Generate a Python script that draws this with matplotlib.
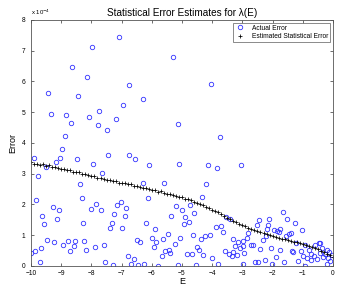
import numpy as np
import matplotlib
matplotlib.use('Agg')
import matplotlib.pyplot as plt

plt.rcParams['font.family'] = ['Liberation Sans', 'DejaVu Sans']

# actual error (units of 1e-4)
act_x = [-7.09, -7.98, -8.63, -8.14, -6.75, -9.43, -8.43, -6.94, -9.33, -8.83,
         -7.74, -8.09, -7.19, -8.68, -7.79, -7.48, -8.88, -6.29, -6.77, -6.56,
         -6.09, -7.44, -7.94, -7.64, -8.49, -8.97, -9.03, -9.18, -9.92, -9.78,
         -5.29, -4.04, -5.14, -3.75, -5.09, -4.15, -3.85, -3.06, -9.49,
         -8.38, -9.83, -8.33, -9.28, -9.08, -9.63, -9.57, -9.13, -8.28, -8.02,
         -7.84, -7.68, -7.14, -7.03, -6.85, -7.24, -6.89, -7.33, -7.38, -6.99,
         -6.18, -6.14, -6.28, -5.88, -9.48, -9.23, -9.68, -9.88, -9.99, -9.72,
         -8.93, -8.77, -8.72, -8.59, -8.53, -8.24, -8.18, -7.88, -7.58, -7.54,
         -7.28, -6.79, -6.69, -6.58, -6.45, -6.50, -6.39, -6.25, -5.98, -5.86,
         -5.94, -5.78, -5.67, -5.64, -5.55, -5.47, -5.59,
         -5.19, -5.35, -5.44, -5.39, -5.24, -5.08, -5.13,
         -4.19, -4.35, -4.75, -4.99, -4.59, -4.89, -4.78, -4.93, -3.53, -3.41,
         -3.88, -3.70, -3.63, -4.65, -4.38, -4.23, -4.08, -4.50, -4.43, -4.83,
         -4.68, -4.29, -4.00, -3.59, -3.45, -4.55, -3.80,
         -3.30, -3.30, -3.35, -3.17, -3.24, -3.08, -3.13, -2.99, -2.99, -2.95,
         -2.99, -2.84, -2.73, -2.64, -2.81, -2.53, -2.45, -2.58, -2.49, -2.42,
         -2.33, -2.26, -2.22, -2.20, -2.14, -2.11, -2.06, -2.02, -1.95, -1.89,
         -1.84, -1.75, -1.79, -1.75, -1.66, -1.61, -1.56, -1.51, -1.45, -1.40,
         -1.36, -1.31, -1.26, -1.23, -1.15, -1.07, -1.04, -0.98, -0.94, -0.94,
         -0.86, -0.80, -0.74, -0.72, -0.62, -0.61, -0.54, -0.47, -0.43, -0.44,
         -0.37, -0.32, -0.25, -0.21, -0.21, -0.16, -0.10, -0.04, -0.14]
act_y = [7.45, 7.12, 6.47, 6.14, 5.88, 5.61, 5.52, 5.22, 4.95, 4.92,
         5.03, 4.85, 4.78, 4.64, 4.59, 4.42, 4.22, 5.43, 3.60, 3.47,
         3.27, 3.60, 3.33, 3.01, 3.47, 3.81, 3.50, 3.39, 3.50, 2.91,
         6.80, 5.92, 4.63, 4.19, 3.33, 3.27, 3.19, 3.28, 3.21,
         2.65, 2.13, 2.20, 1.90, 1.81, 1.61, 1.35, 1.53, 1.38, 1.84,
         2.00, 1.83, 1.98, 2.07, 1.89, 1.68, 1.63, 1.41, 1.23, 1.24,
         1.41, 2.22, 2.69, 1.20, 0.84, 0.77, 0.57, 0.47, 0.41, 0.14,
         0.67, 0.82, 0.50, 0.65, 0.80, 0.82, 0.53, 0.63, 0.67, 0.11,
         0.03, 0.33, 0.05, 0.21, 0.02, 0.84, 0.78, 0.06, 0.91, 0.77,
         0.60, 0.01, 0.33, 0.88, 0.47, 1.04, 2.69,
         1.96, 1.62, 0.53, 0.41, 0.71, 0.91, 0.03,
         2.67, 2.25, 1.98, 1.83, 1.73, 1.60, 1.42, 1.35, 1.58, 1.51,
         1.28, 1.30, 1.10, 1.00, 0.86, 0.98, 1.00, 0.60, 0.53, 0.40,
         0.38, 0.35, 0.25, 0.48, 0.40, 0.03, 0.05,
         0.86, 0.45, 0.33, 0.34, 0.64, 0.57, 0.78, 0.80, 0.65, 0.42,
         0.07, 0.90, 0.67, 0.67, 1.08, 1.32, 1.48, 0.14, 0.14, 0.54,
         0.83, 0.18, 0.98, 1.20, 1.34, 1.52, 0.57, 0.06, 1.16, 0.28,
         1.13, 1.21, 1.11, 0.53, 1.75, 0.13, 0.96, 1.52, 1.04, 1.07,
         0.48, 0.44, 1.41, 0.74, 0.15, 0.47, 1.17, 0.32, 0.67, 0.00,
         0.26, 0.52, 0.19, 0.40, 0.32, 0.67, 0.23, 0.73, 0.75, 0.41,
         0.57, 0.28, 0.38, 0.51, 0.06, 0.26, 0.15, 0.34, 0.45]

# estimated statistical error (units of 1e-4), E from -10 to 0 in steps of 0.1
est_x = np.round(np.arange(-10, 0.001, 0.1), 2)
est_y = [3.38, 3.30, 3.33, 3.28, 3.30, 3.25, 3.27, 3.21, 3.22, 3.17,
         3.15, 3.16, 3.11, 3.12, 3.06, 3.05, 3.06, 2.99, 3.00, 2.94,
         2.91, 2.92, 2.86, 2.87, 2.81, 2.79, 2.80, 2.75, 2.76, 2.71,
         2.70, 2.68, 2.65, 2.66, 2.60, 2.59, 2.57, 2.53, 2.54, 2.49,
         2.47, 2.46, 2.41, 2.42, 2.37, 2.35, 2.33, 2.29, 2.28, 2.25,
         2.23, 2.19, 2.16, 2.13, 2.08, 2.05, 2.01, 1.97, 1.93, 1.88,
         1.83, 1.78, 1.74, 1.68, 1.62, 1.57, 1.52, 1.47, 1.42, 1.37,
         1.33, 1.29, 1.24, 1.21, 1.16, 1.13, 1.10, 1.06, 1.03, 0.99,
         0.96, 0.94, 0.91, 0.89, 0.86, 0.84, 0.82, 0.79, 0.77, 0.73,
         0.71, 0.68, 0.65, 0.61, 0.58, 0.54, 0.50, 0.45, 0.40, 0.34,
         0.28]

fig = plt.figure(figsize=(3.38, 2.89), dpi=100)
ax = fig.add_axes([0.092, 0.080, 0.893, 0.851])

ax.plot(act_x, act_y, 'o', mfc='none', mec='#3333ff', ms=3.2, mew=0.6,
        label='Actual Error')
ax.plot(est_x, est_y, '+', color='black', ms=3.4, mew=0.55,
        label='Estimated Statistical Error')

ax.set_xlim(-10, 0)
ax.set_ylim(0, 8)
ax.set_xticks(range(-10, 1))
ax.set_yticks(range(0, 9))
ax.tick_params(direction='in', top=True, right=True, length=2.5, width=0.5,
               labelsize=4.8, colors='#333333', labelcolor='black')
ax.tick_params(axis='x', pad=3)
ax.tick_params(axis='y', pad=4)
for s in ax.spines.values():
    s.set_linewidth(0.6)
    s.set_color('#555555')

ax.set_title('Statistical Error Estimates for λ(E)', fontsize=7.2, pad=3)
ax.set_xlabel('E', fontsize=6.5, labelpad=0)
ax.set_ylabel('Error', fontsize=6.5, labelpad=3)
ax.text(0.0, 1.012, r'x 10$^{-4}$', transform=ax.transAxes, fontsize=4.3,
        ha='left', va='bottom')

leg = ax.legend(loc='upper right', fontsize=4.8, frameon=True, fancybox=False,
                borderpad=0.3, handletextpad=1.0, labelspacing=0.25,
                borderaxespad=0.4, handlelength=1.5)
leg.get_frame().set_edgecolor('#555555')
leg.get_frame().set_linewidth(0.6)

fig.savefig('out.png', dpi=100)
